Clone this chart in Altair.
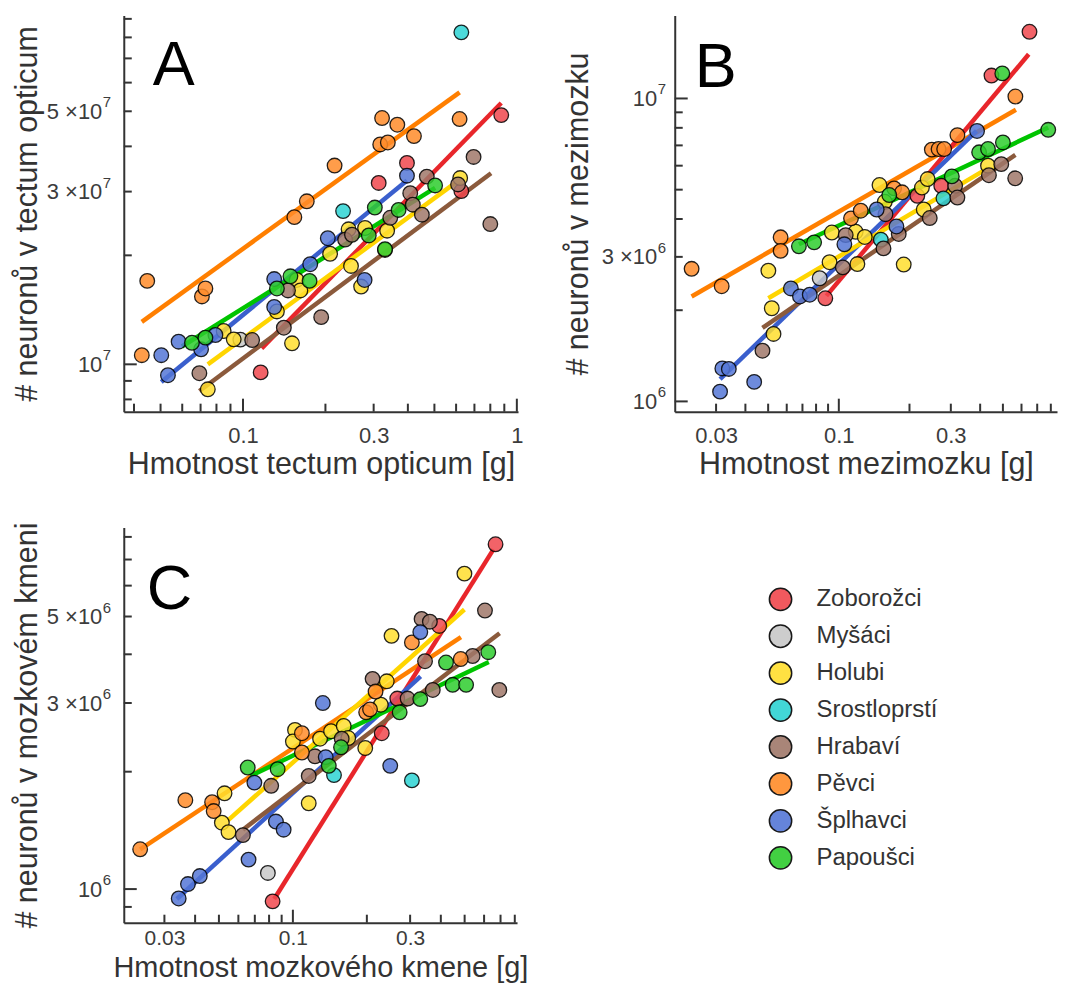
import altair as alt
import pandas as pd

FONT = "Liberation Sans"
GROUPS = ["Zoborožci", "Myšáci", "Holubi", "Srostloprstí", "Hrabaví", "Pěvci", "Šplhavci", "Papoušci"]
FILL_COLORS = ["#f0484d", "#c8c8c8", "#ffde2e", "#2ed3d3", "#a0786a", "#ff8c2a", "#5577d6", "#2ecc2e"]
LINE_GROUPS = ["Pěvci", "Zoborožci", "Šplhavci", "Papoušci", "Holubi", "Hrabaví"]
LINE_COLORS = ["#ff7f00", "#e8262b", "#3a5fcd", "#00c400", "#ffd500", "#8b5a3c"]

# ---------------- Panel A: tectum opticum ----------------
a_zob_x = [0.116, 0.397, 0.313, 0.627, 0.877]
a_zob_y = [9.5e6, 3.60e7, 3.17e7, 3.01e7, 4.88e7]
a_mys_x = [0.0978]
a_mys_y = [1.17e7]
a_hol_x = [0.0744, 0.0850, 0.0925, 0.151, 0.133, 0.157, 0.162, 0.208, 0.243, 0.248, 0.270, 0.279, 0.336, 0.330, 0.621]
a_hol_y = [8.53e6, 1.236e7, 1.172e7, 1.143e7, 1.40e7, 1.71e7, 1.60e7, 2.02e7, 2.36e7, 1.87e7, 1.64e7, 2.38e7, 2.34e7, 2.07e7, 3.27e7]
a_sro_x = [0.232, 0.627]
a_sro_y = [2.65e7, 8.26e7]
a_hra_x = [0.0693, 0.108, 0.141, 0.146, 0.193, 0.236, 0.250, 0.345, 0.408, 0.417, 0.450, 0.469, 0.610, 0.695, 0.80]
a_hra_y = [9.45e6, 1.167e7, 1.262e7, 1.60e7, 1.35e7, 2.21e7, 2.28e7, 2.54e7, 2.97e7, 2.76e7, 2.59e7, 3.30e7, 3.14e7, 3.74e7, 2.44e7]
a_pev_x = [0.0427, 0.0447, 0.0708, 0.0729, 0.154, 0.171, 0.216, 0.317, 0.338, 0.322, 0.366, 0.421, 0.618]
a_pev_y = [1.06e7, 1.70e7, 1.54e7, 1.62e7, 2.55e7, 2.82e7, 3.54e7, 4.05e7, 4.10e7, 4.79e7, 4.59e7, 4.27e7, 4.76e7]
a_spl_x = [0.0503, 0.0532, 0.0582, 0.0703, 0.0793, 0.130, 0.130, 0.176, 0.204, 0.278, 0.397]
a_spl_y = [1.06e7, 9.33e6, 1.155e7, 1.10e7, 1.205e7, 1.72e7, 1.44e7, 1.89e7, 2.23e7, 1.71e7, 3.32e7]
a_pap_x = [0.0651, 0.0729, 0.149, 0.133, 0.175, 0.288, 0.303, 0.370, 0.503, 0.330]
a_pap_y = [1.147e7, 1.185e7, 1.75e7, 1.62e7, 1.70e7, 2.27e7, 2.71e7, 2.67e7, 3.12e7, 2.08e7]
# fitted power-law lines (end points), order as LINE_GROUPS
a_fit_x = [[0.0427, 0.618], [0.117, 0.877], [0.0503, 0.397], [0.0598, 0.503], [0.0744, 0.596], [0.0693, 0.805]]
a_fit_y = [[1.31e7, 5.64e7], [1.107e7, 5.27e7], [8.94e6, 3.22e7], [1.12e7, 3.07e7], [1.0e7, 3.17e7], [8.44e6, 3.37e7]]

# ---------------- Panel B: mezimozek ----------------
b_zob_x = [0.0876, 0.216, 0.273, 0.447, 0.649]
b_zob_y = [2.19e6, 4.77e6, 5.15e6, 1.19e7, 1.66e7]
b_mys_x = [0.0829]
b_mys_y = [2.55e6]
b_hol_x = [0.0501, 0.0518, 0.0527, 0.0913, 0.0934, 0.118, 0.120, 0.129, 0.149, 0.157, 0.189, 0.226, 0.239, 0.230, 0.432]
b_hol_y = [2.70e6, 2.03e6, 1.67e6, 2.88e6, 3.61e6, 3.63e6, 2.84e6, 3.49e6, 5.18e6, 4.56e6, 2.83e6, 5.08e6, 5.42e6, 4.30e6, 6.00e6]
b_sro_x = [0.151, 0.279]
b_sro_y = [3.42e6, 4.68e6]
b_hra_x = [0.0473, 0.104, 0.107, 0.155, 0.158, 0.180, 0.244, 0.313, 0.320, 0.436, 0.492, 0.564]
b_hra_y = [1.47e6, 2.77e6, 3.54e6, 3.20e6, 4.15e6, 3.57e6, 4.03e6, 5.15e6, 4.71e6, 5.58e6, 6.07e6, 5.45e6]
b_pev_x = [0.0236, 0.0317, 0.0565, 0.0565, 0.1127, 0.124, 0.172, 0.186, 0.249, 0.266, 0.281, 0.320, 0.565]
b_pev_y = [2.74e6, 2.40e6, 3.48e6, 3.14e6, 4.02e6, 4.26e6, 5.05e6, 4.90e6, 6.78e6, 6.81e6, 6.81e6, 7.57e6, 1.015e7]
b_spl_x = [0.0312, 0.0319, 0.0340, 0.0436, 0.0625, 0.0683, 0.0752, 0.1056, 0.145, 0.176, 0.388]
b_spl_y = [1.077e6, 1.285e6, 1.28e6, 1.16e6, 2.36e6, 2.22e6, 2.25e6, 3.30e6, 4.30e6, 3.78e6, 7.81e6]
b_pap_x = [0.0676, 0.0785, 0.164, 0.303, 0.396, 0.432, 0.500, 0.497, 0.780]
b_pap_y = [3.25e6, 3.35e6, 4.80e6, 5.53e6, 6.64e6, 6.81e6, 7.16e6, 1.21e7, 7.88e6]
b_fit_x = [[0.0236, 0.568], [0.0885, 0.644], [0.0312, 0.386], [0.0676, 0.780], [0.0501, 0.432], [0.0473, 0.565]]
b_fit_y = [[2.22e6, 9.18e6], [2.23e6, 1.40e7], [1.185e6, 7.81e6], [3.30e6, 8.02e6], [2.19e6, 5.89e6], [1.75e6, 6.51e6]]

# ---------------- Panel C: mozkový kmen ----------------
c_zob_x = [0.0827, 0.230, 0.266, 0.394, 0.668]
c_zob_y = [9.3e5, 2.51e6, 3.08e6, 4.73e6, 7.66e6]
c_mys_x = [0.0791]
c_mys_y = [1.10e6]
c_hol_x = [0.0527, 0.0514, 0.0547, 0.102, 0.100, 0.116, 0.129, 0.143, 0.161, 0.168, 0.197, 0.228, 0.241, 0.252, 0.499]
c_hol_y = [1.76e6, 1.48e6, 1.40e6, 2.56e6, 2.39e6, 1.66e6, 2.43e6, 2.54e6, 2.62e6, 2.44e6, 2.30e6, 2.97e6, 3.41e6, 4.46e6, 6.44e6]
c_sro_x = [0.147, 0.305]
c_sro_y = [1.96e6, 1.90e6]
c_hra_x = [0.0626, 0.0816, 0.116, 0.123, 0.158, 0.211, 0.293, 0.334, 0.361, 0.345, 0.371, 0.539, 0.605, 0.692]
c_hra_y = [1.375e6, 1.84e6, 1.95e6, 2.19e6, 2.43e6, 3.46e6, 3.08e6, 4.93e6, 4.85e6, 3.84e6, 3.24e6, 3.96e6, 5.18e6, 3.24e6]
c_pev_x = [0.0239, 0.0365, 0.0469, 0.0476, 0.1088, 0.1088, 0.1987, 0.206, 0.217, 0.305, 0.482]
c_pev_y = [1.265e6, 1.69e6, 1.67e6, 1.585e6, 2.51e6, 2.24e6, 2.84e6, 2.89e6, 3.21e6, 4.29e6, 3.89e6]
c_spl_x = [0.0343, 0.0374, 0.0418, 0.066, 0.0697, 0.0853, 0.0917, 0.1324, 0.136, 0.249, 0.330]
c_spl_y = [9.46e5, 1.03e6, 1.08e6, 1.19e6, 1.875e6, 1.49e6, 1.42e6, 3.00e6, 2.18e6, 2.07e6, 4.56e6]
c_pap_x = [0.0655, 0.0867, 0.140, 0.157, 0.272, 0.330, 0.420, 0.447, 0.507, 0.624]
c_pap_y = [2.05e6, 2.03e6, 2.07e6, 2.31e6, 2.84e6, 3.07e6, 3.81e6, 3.34e6, 3.34e6, 4.05e6]
c_fit_x = [[0.0239, 0.483], [0.0839, 0.655], [0.0337, 0.331], [0.0671, 0.627], [0.0544, 0.499], [0.0626, 0.694]]
c_fit_y = [[1.265e6, 4.43e6], [9.43e5, 7.43e6], [9.43e5, 3.51e6], [1.95e6, 3.82e6], [1.50e6, 5.21e6], [1.42e6, 4.53e6]]

# axis labels: values, base text, exponent
a_x_labels = ([0.1, 0.3, 1.0], ["0.1", "0.3", "1"])
a_y_labels = ([1e7, 3e7, 5e7], ["10", "3 ×10", "5 ×10"], ["7", "7", "7"])
b_x_labels = ([0.03, 0.1, 0.3], ["0.03", "0.1", "0.3"])
b_y_labels = ([1e6, 3e6, 1e7], ["10", "3 ×10", "10"], ["6", "6", "7"])
c_x_labels = ([0.03, 0.1, 0.3], ["0.03", "0.1", "0.3"])
c_y_labels = ([1e6, 3e6, 5e6], ["10", "3 ×10", "5 ×10"], ["6", "6", "6"])

a_x_minor = [0.04, 0.05, 0.06, 0.07, 0.08, 0.09, 0.2, 0.3, 0.4, 0.5, 0.6, 0.7, 0.8, 0.9]
a_x_major = [0.1, 1.0]
a_y_minor = [8e6, 9e6, 2e7, 3e7, 4e7, 5e7, 6e7, 7e7, 8e7, 9e7]
a_y_major = [1e7]
b_x_minor = [0.03, 0.04, 0.05, 0.06, 0.07, 0.08, 0.09, 0.2, 0.3, 0.4, 0.5, 0.6, 0.7, 0.8]
b_x_major = [0.1]
b_y_minor = [2e6, 3e6, 4e6, 5e6, 6e6, 7e6, 8e6, 9e6]
b_y_major = [1e6, 1e7]
c_x_minor = [0.03, 0.04, 0.05, 0.06, 0.07, 0.08, 0.09, 0.2, 0.3, 0.4, 0.5, 0.6, 0.7, 0.8]
c_x_major = [0.1]
c_y_minor = [9e5, 2e6, 3e6, 4e6, 5e6, 6e6, 7e6, 8e6]
c_y_major = [1e6]

LABEL_SIZE = 22
EXP_SIZE = 15
TITLE_SIZE = 30.5
LABEL_COLOR = "#3c3c3c"


def points_frame(prefix):
    keys = ["zob", "mys", "hol", "sro", "hra", "pev", "spl", "pap"]
    rows = []
    g = globals()
    for key, grp in zip(keys, GROUPS):
        for xv, yv in zip(g[f"{prefix}_{key}_x"], g[f"{prefix}_{key}_y"]):
            rows.append({"x": xv, "y": yv, "g": grp})
    return pd.DataFrame(rows)


def lines_frame(xs, ys):
    rows = []
    for grp, xx, yy in zip(LINE_GROUPS, xs, ys):
        for xv, yv in zip(xx, yy):
            rows.append({"x": xv, "y": yv, "g": grp})
    return pd.DataFrame(rows)


def label_expr(vals, labels):
    parts = [f"abs(datum.value - {v!r}) < {v * 1e-6!r} ? '{l}'" for v, l in zip(vals, labels)]
    return " : ".join(parts) + " : ''"


AX = dict(domainColor="#333333", domainWidth=2, ticks=False, grid=False,
          labelFont=FONT, labelColor=LABEL_COLOR,
          labelFlush=False, labelOverlap=False,
          titleFont=FONT, titleFontWeight="normal", titleColor="#333333")


def panel(fit_x, fit_y, pts_df, xdom, ydom, w, h, xlab, ylab, ypad, xpad, xlab_size, xtitle_y, xtitle_size,
          xminor, xmajor, yminor, ymajor, xtitle, ytitle, letter, lx, ly, legend):
    xs = alt.Scale(type="log", domain=xdom, nice=False)
    ys = alt.Scale(type="log", domain=ydom, nice=False)
    fill_scale = alt.Scale(domain=GROUPS, range=FILL_COLORS)
    line_scale = alt.Scale(domain=LINE_GROUPS, range=LINE_COLORS)
    xaxis = alt.Axis(values=xlab[0], labelExpr=label_expr(*xlab), title=xtitle,
                     labelPadding=xpad, labelFontSize=xlab_size,
                     titleY=xtitle_y, titleBaseline="top",
                     titleFontSize=xtitle_size, **AX)
    yaxis = alt.Axis(values=ylab[0], labelExpr=label_expr(ylab[0], ylab[1]), title=ytitle,
                     labelPadding=ypad, labelFontSize=LABEL_SIZE,
                     titleX=-87, titleBaseline="alphabetic",
                     titleFontSize=TITLE_SIZE, **AX)

    lines = alt.Chart(lines_frame(fit_x, fit_y)).mark_line(strokeWidth=4.5, strokeCap="butt").encode(
        x=alt.X("x:Q", scale=xs, axis=xaxis),
        y=alt.Y("y:Q", scale=ys, axis=yaxis),
        stroke=alt.Stroke("g:N", scale=line_scale, legend=None),
        detail="g:N",
    )
    pts = alt.Chart(pts_df).mark_circle(
        size=215, stroke="black", strokeWidth=1.3, strokeOpacity=0.85,
        fillOpacity=0.85, opacity=1
    ).encode(
        x=alt.X("x:Q", scale=xs),
        y=alt.Y("y:Q", scale=ys),
        fill=alt.Fill("g:N", scale=fill_scale, legend=legend),
    )
    rule_style = dict(color="#333333", strokeWidth=2)
    xt_minor = alt.Chart(pd.DataFrame({"v": xminor})).mark_rule(**rule_style).encode(
        x=alt.X("v:Q", scale=xs), y=alt.value(h), y2=alt.value(h - 8))
    xt_major = alt.Chart(pd.DataFrame({"v": xmajor})).mark_rule(**rule_style).encode(
        x=alt.X("v:Q", scale=xs), y=alt.value(h), y2=alt.value(h - 13))
    yt_minor = alt.Chart(pd.DataFrame({"v": yminor})).mark_rule(**rule_style).encode(
        y=alt.Y("v:Q", scale=ys), x=alt.value(0), x2=alt.value(8))
    yt_major = alt.Chart(pd.DataFrame({"v": ymajor})).mark_rule(**rule_style).encode(
        y=alt.Y("v:Q", scale=ys), x=alt.value(0), x2=alt.value(13))
    exps = alt.Chart(pd.DataFrame({"v": ylab[0], "e": ylab[2]})).mark_text(
        font=FONT, fontSize=EXP_SIZE, color=LABEL_COLOR, align="left", baseline="alphabetic", dy=-4, dx=1
    ).encode(y=alt.Y("v:Q", scale=ys), x=alt.value(-ypad), text="e:N")
    let = alt.Chart(pd.DataFrame({"t": [letter]})).mark_text(
        font=FONT, fontSize=63, color="black", align="left", baseline="alphabetic"
    ).encode(text="t:N", x=alt.value(lx), y=alt.value(ly))
    return alt.layer(lines, pts, xt_minor, xt_major, yt_minor, yt_major, exps, let).properties(
        width=w, height=h)


A = panel(a_fit_x, a_fit_y, points_frame("a"), [0.0367, 1.01], [7.4e6, 9.2e7], 395, 397,
          a_x_labels, a_y_labels, 22, 14, LABEL_SIZE, 38, TITLE_SIZE,
          a_x_minor, a_x_major, a_y_minor, a_y_major,
          "Hmotnost tectum opticum [g]", "# neuronů v tectum opticum", "A", 29, 70, None)
B = panel(b_fit_x, b_fit_y, points_frame("b"), [0.020, 0.85], [9.25e5, 1.88e7], 383, 397,
          b_x_labels, b_y_labels, 18, 14, LABEL_SIZE, 38, TITLE_SIZE,
          b_x_minor, b_x_major, b_y_minor, b_y_major,
          "Hmotnost mezimozku [g]", "# neuronů v mezimozku", "B", 20, 72, None)
legend = alt.Legend(orient="none", legendX=646, legendY=60, title=None, padding=0,
                    symbolType="circle", symbolSize=500, symbolStrokeColor="black",
                    symbolStrokeWidth=1.5, symbolOpacity=0.9,
                    labelFont=FONT, labelFontSize=24, labelColor="#333333",
                    labelOffset=24, rowPadding=7, labelLimit=300)
C = panel(c_fit_x, c_fit_y, points_frame("c"), [0.0205, 0.817], [8.2e5, 8.46e6], 394, 396,
          c_x_labels, c_y_labels, 22, 5, 21, 31, 29,
          c_x_minor, c_x_major, c_y_minor, c_y_major,
          "Hmotnost mozkového kmene [g]", "# neuronů v mozkovém kmeni", "C", 23, 82, legend)

chart = alt.concat(A, B, C, columns=2).properties(
    spacing={"row": 116, "column": 157}, bounds="flush",
    padding={"left": 4, "top": 6.5, "right": 0, "bottom": 2},
    background="white",
).resolve_scale(fill="independent", stroke="independent").configure_view(stroke=None)

chart.save("out.html", embed_options={"renderer": "svg", "actions": False})
